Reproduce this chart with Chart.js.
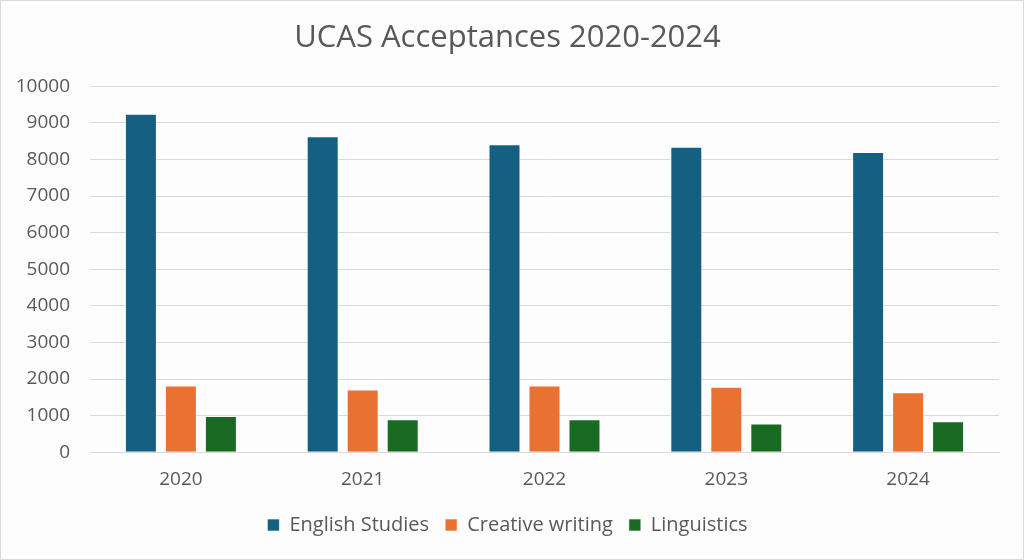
<!DOCTYPE html>
<html>
<head>
<meta charset="utf-8">
<title>UCAS Acceptances 2020-2024</title>
<script src="https://cdn.jsdelivr.net/npm/chart.js@4/dist/chart.umd.min.js"></script>
<style>
  html, body { margin: 0; padding: 0; background: #ffffff; }
  #frame {
    width: 1024px; height: 560px; box-sizing: border-box;
    border: 1px solid #d9d9d9; background: #fdfdfd; position: relative;
  }
  #frame canvas { display: block; }
</style>
</head>
<body>
<div id="frame"><canvas id="ucasChart" width="1022" height="558"></canvas></div>
<script>
// Values
const years = ['2020', '2021', '2022', '2023', '2024'];
const englishStudies = [9245, 8635, 8415, 8345, 8205];
const creativeWriting = [1820, 1710, 1820, 1790, 1640];
const linguistics = [990, 900, 900, 785, 845];
const yTicks = [0, 1000, 2000, 3000, 4000, 5000, 6000, 7000, 8000, 9000, 10000];

const textColor = '#595959';
const gridColor = '#d9d9d9';
const fontFamily = "'Open Sans', 'Noto Sans', sans-serif";

function makeSeries(label, values, colour) {
  return {
    label: label,
    data: values,
    backgroundColor: colour,
    borderColor: 'rgba(255, 255, 255, 0.6)',
    borderWidth: 1,
    categoryPercentage: 0.66,
    barPercentage: 0.8
  };
}

const config = {
  type: 'bar',
  data: {
    labels: years,
    datasets: [
      makeSeries('English Studies', englishStudies, '#156082'),
      makeSeries('Creative writing', creativeWriting, '#e97132'),
      makeSeries('Linguistics', linguistics, '#196b24')
    ]
  },
  options: {
    responsive: false,
    animation: false,
    layout: { padding: { left: 15, right: 24, top: 0, bottom: 14 } },
    plugins: {
      title: {
        display: true,
        text: 'UCAS Acceptances 2020-2024',
        color: textColor,
        font: { family: fontFamily, size: 31, weight: 'normal' },
        padding: { top: 19, bottom: 29 }
      },
      legend: {
        position: 'bottom',
        labels: {
          color: textColor,
          font: { family: fontFamily, size: 20 },
          boxWidth: 12,
          boxHeight: 12,
          padding: 16
        }
      },
      tooltip: { enabled: false }
    },
    scales: {
      x: {
        grid: { display: false },
        border: { color: gridColor, width: 1 },
        ticks: { color: textColor, font: { family: fontFamily, size: 19 }, padding: 8 }
      },
      y: {
        min: 0,
        max: 10000,
        afterBuildTicks: function(axis) {
          axis.ticks = yTicks.map(v => ({ value: v }));
        },
        // fixed axis width so the grid starts where the reference does
        afterFit: function(axis) { axis.width = 74; },
        grid: { color: gridColor, lineWidth: 1, drawTicks: false },
        border: { display: false },
        ticks: {
          color: textColor,
          font: { family: fontFamily, size: 19 },
          padding: 20,
          callback: function(value) { return String(value); }
        }
      }
    }
  }
};

new Chart(document.getElementById('ucasChart').getContext('2d'), config);
</script>
</body>
</html>
